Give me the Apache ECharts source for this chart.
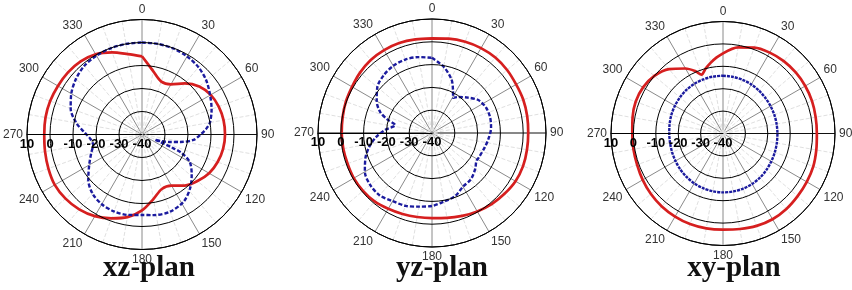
<!DOCTYPE html>
<html>
<head>
<meta charset="utf-8">
<script src="https://cdn.jsdelivr.net/npm/echarts@6/dist/echarts.min.js"></script>
<style>
html,body{margin:0;padding:0;background:#fff;}
#c{width:852px;height:290px;}
</style>
</head>
<body>
<div id="c"></div>
<script>
// ---------- data (angle in degrees, clockwise from top; gain in dB) ----------
const angleTicks = [0, 30, 60, 90, 120, 150, 180, 210, 240, 270, 300, 330];
const radialTicks = [-40, -30, -20, -10, 0, 10];
const planTitles = ['xz-plan', 'yz-plan', 'xy-plan'];

const step10 = [0,10,20,30,40,50,60,70,80,90,100,110,120,130,140,150,160,170,180,190,200,210,220,230,240,250,260,270,280,290,300,310,320,330,340,350];

// xz-plan
const xzRedAngles = step10;
const xzRed = [-6,-12,-15.5,-14.8,-11,-7.5,-5.5,-4.5,-4,-3.9,-4.2,-5,-6.3,-8.5,-11,-14.3,-14.8,-11.5,-7,-3.5,-1.2,1,2.5,3.4,3.8,3.3,2.8,2.5,2.6,2.5,2.2,2,1.5,0.3,-2,-4.5];
const xzBlueAngles = [0,10,20,30,40,50,60,70,80,85,90,96,101,105,109,112,113.5,115,120,129,138,148,160,172,180,190,200,210,220,230,240,250,258,265,272,280,290,300,310,320,330,340,350];
const xzBlue = [0,0,-0.2,-0.8,-1.8,-3.5,-5.8,-7.8,-10,-12,-14.5,-17.5,-23,-27.5,-31,-34,-26,-21,-16,-12.2,-8.7,-5.7,-4.3,-4.6,-5,-4.5,-4.4,-5,-6.5,-9.5,-13.5,-16.5,-18.3,-17.5,-15,-11,-7,-4.5,-2.5,-1,-0.4,-0.1,0];

// yz-plan
const yzRedAngles = step10;
const yzRed = [1.5,2,2.6,3,3.2,3,2.6,2.6,2.4,2.2,2.3,2.5,2.3,1.5,0.7,-0.3,-1.3,-2.2,-2.7,-2.6,-2.2,-1.6,-0.8,-0.5,-0.4,-0.6,-0.5,-0.4,-0.2,0.2,0.5,1.2,1.8,2,2,1.7];
const yzBlueAngles = [0,10,20,26,31,36,45,55,65,75,85,95,105,117,122,130,140,150,160,170,180,190,200,210,220,230,240,250,258,266,274,282,287,292,300,310,320,330,340,350];
const yzBlue = [-7,-10.5,-15,-19,-22,-20.5,-18,-15,-13.8,-13.6,-14,-15,-16,-16.8,-17,-15.3,-13.5,-12.8,-10.5,-9.5,-8,-7.2,-6,-5.5,-4.3,-4.6,-6,-9,-12,-15.5,-19.5,-23.5,-19.5,-15.5,-12,-8.7,-7,-6,-5.7,-6.2];

// xy-plan
const xyRedAngles = [0,10,20,30,40,50,60,70,80,90,100,110,120,130,140,150,160,170,180,190,200,210,220,230,240,250,260,270,280,290,300,310,320,330,336,340,345,350,355];
const xyRed = [-4.2,-1,0.8,1.7,2.2,2.4,2.4,2.3,2,1.9,2.3,2.9,3.2,3.5,4,4.2,3.9,3.3,2.9,3,3,2.8,2.5,2,1.4,0.8,0.6,0.5,1,1.5,1.2,0,-2.5,-6.5,-9.5,-12,-10,-8,-6];
const xyBlueAngles = step10;
const xyBlue = [-14.2,-14.3,-14.5,-14.7,-15,-15.3,-15.5,-15.6,-15.7,-15.7,-15.6,-15.4,-15.1,-14.7,-14.3,-14,-13.8,-13.7,-13.7,-13.8,-14,-14.3,-14.7,-15.1,-15.5,-15.8,-16,-16,-15.8,-15.5,-15.2,-14.9,-14.6,-14.4,-14.3,-14.2];

// ---------- layout ----------
const panels = [
  {center:[142,134.5], r:115, titleX:149, red:[xzRedAngles,xzRed], blue:[xzBlueAngles,xzBlue], blueDash:[4,2]},
  {center:[432,133], r:114, titleX:442, red:[yzRedAngles,yzRed], blue:[yzBlueAngles,yzBlue], blueDash:[4,2]},
  {center:[723,133.5], r:112, titleX:734, red:[xyRedAngles,xyRed], blue:[xyBlueAngles,xyBlue], blueDash:[3,1]}
];

// angle axis starts at the left (so the radial scale sits on the 270 line); shift data by 90
function toAxisAngle(a){ return (a + 90) % 360; }
function build(pair){
  const [ang, val] = pair;
  const pts = ang.map((a,i)=>[val[i], toAxisAngle(a)]);
  pts.push(pts[0].slice());
  return pts;
}

const polar = [], angleAxis = [], radiusAxis = [], series = [], graphic = [];
panels.forEach((p, i) => {
  polar.push({center:p.center, radius:[0,p.r]});
  angleAxis.push({
    polarIndex:i, type:'value', startAngle:180, clockwise:true, min:0, max:360, interval:30,
    axisLine:{show:true, lineStyle:{color:'#000', width:1}},
    axisTick:{show:false},
    axisLabel:{show:true, margin:4, fontSize:12, color:'#333', fontFamily:'Liberation Sans',
      formatter:function(v){ if (v >= 360) return ''; const d = (v + 270) % 360; return angleTicks.indexOf(d) >= 0 ? String(d) : ''; }},
    splitLine:{show:true, lineStyle:{color:['#111','#8a8a8a','#8a8a8a','#8a8a8a','#8a8a8a','#8a8a8a'], width:1}},
    minorTick:{show:false, splitNumber:3},
    minorSplitLine:{show:true, lineStyle:{color:'#e0e0e0', type:'dashed', width:1}}
  });
  radiusAxis.push({
    polarIndex:i, type:'value', min:radialTicks[0], max:radialTicks[radialTicks.length-1], interval:10,
    axisLine:{show:true, lineStyle:{color:'#000', width:1}},
    axisTick:{show:false},
    axisLabel:{show:true, margin:3, fontSize:13, fontWeight:'bold', color:'#000', fontFamily:'Liberation Sans'},
    splitLine:{show:true, lineStyle:{color:'#000', width:1}},
    z:5
  });
  series.push({
    type:'line', coordinateSystem:'polar', polarIndex:i, data:build(p.red),
    symbol:'none', smooth:0.3, lineStyle:{color:'#d61f1f', width:2.7}, z:3, silent:true
  });
  series.push({
    type:'line', coordinateSystem:'polar', polarIndex:i, data:build(p.blue),
    symbol:'none', smooth:0.3, lineStyle:{color:'#1b1b9e', width:2.4, type:p.blueDash}, z:4, silent:true
  });
  graphic.push({
    type:'text', x:p.titleX, y:269, z:10,
    style:{text:planTitles[i], font:'bold 29px "Liberation Serif"', fill:'#111', align:'center', verticalAlign:'middle'}
  });
});

const chart = echarts.init(document.getElementById('c'), null, {renderer:'canvas'});
chart.setOption({
  backgroundColor:'#fff',
  animation:false,
  polar, angleAxis, radiusAxis, series, graphic
});
</script>
</body>
</html>
